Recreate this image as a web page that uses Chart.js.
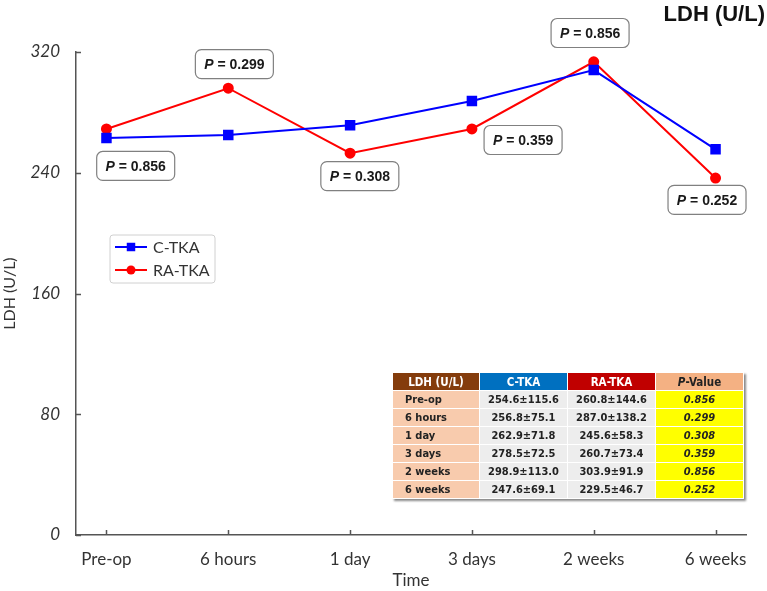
<!DOCTYPE html>
<html lang="en">
<head>
    <meta charset="UTF-8">
    <title>LDH (U/L)</title>
    <script src="https://cdn.jsdelivr.net/npm/chart.js@4.4.1/dist/chart.umd.min.js"></script>
    <style>
        html, body { margin: 0; padding: 0; background: #ffffff; }
        .wrap { position: relative; width: 767px; height: 591px; }
        #ldhChart { position: absolute; left: 0; top: 0; }
        /* summary table laid over the lower right of the plot */
        table.stats {
            position: absolute; left: 392px; top: 372px;
            border-collapse: collapse; table-layout: fixed;
            font-family: "DejaVu Sans Condensed", "DejaVu Sans", sans-serif;
            font-stretch: condensed;
            font-size: 11px; font-weight: bold; color: #222;
            box-shadow: 2px 2px 2px #8a8a8a;
        }
        table.stats th, table.stats td {
            height: 17px; padding: 0; border: 1px solid #ffffff;
            text-align: center; white-space: nowrap; line-height: 16px;
        }
        table.stats th { color: #ffffff; font-size: 11.5px; }
        table.stats .c0 { width: 86px; }
        table.stats .c1, table.stats .c2, table.stats .c3 { width: 87px; }
        table.stats th.h-ldh { background: #843c0c; }
        table.stats th.h-c { background: #0070c0; }
        table.stats th.h-ra { background: #c00000; }
        table.stats th.h-p { background: #f4b183; color: #222; }
        table.stats td.lab { background: #f8cbad; text-align: left; padding-left: 12px; }
        table.stats td.val { background: #ededed; }
        table.stats td.pv { background: #ffff00; font-style: italic; }
    </style>
</head>
<body>
<div class="wrap">
    <canvas id="ldhChart" width="767" height="591"></canvas>
    <table class="stats" id="statsTable">
        <thead>
            <tr>
                <th class="c0 h-ldh">LDH (U/L)</th>
                <th class="c1 h-c">C-TKA</th>
                <th class="c2 h-ra">RA-TKA</th>
                <th class="c3 h-p"><i>P</i>-Value</th>
            </tr>
        </thead>
        <tbody></tbody>
    </table>
</div>

<script>
    // --- data ---
    const timePoints = ['Pre-op', '6 hours', '1 day', '3 days', '2 weeks', '6 weeks'];
    const cTka = [263, 265, 271.5, 287.5, 308, 255.5];
    const raTka = [269, 296, 253, 269, 313.5, 236.5];
    const pValues = ['0.856', '0.299', '0.308', '0.359', '0.856', '0.252'];
    const yTicks = [0, 80, 160, 240, 320];

    // table values (mean ± SD)
    const cTkaMean = [254.6, 256.8, 262.9, 278.5, 298.9, 247.6];
    const cTkaSd = [115.6, 75.1, 71.8, 72.5, 113.0, 69.1];
    const raTkaMean = [260.8, 287.0, 245.6, 260.7, 303.9, 229.5];
    const raTkaSd = [144.6, 138.2, 58.3, 73.4, 91.9, 46.7];

    // where each P box sits, in axis units (x index, LDH value)
    const pBoxAt = [[0.24, 244.5], [1.05, 312], [2.08, 237.8], [3.42, 261.7], [3.97, 332.6], [4.93, 222]];

    // --- table ---
    const tbody = document.querySelector('#statsTable tbody');
    timePoints.forEach((t, i) => {
        const tr = document.createElement('tr');
        tr.innerHTML =
            `<td class="lab">${t}</td>` +
            `<td class="val">${cTkaMean[i].toFixed(1)}±${cTkaSd[i].toFixed(1)}</td>` +
            `<td class="val">${raTkaMean[i].toFixed(1)}±${raTkaSd[i].toFixed(1)}</td>` +
            `<td class="pv">${pValues[i]}</td>`;
        tbody.appendChild(tr);
    });

    // --- extras drawn on the canvas: inner ticks, P boxes, legend, title ---
    const decorations = {
        id: 'decorations',
        afterDraw(chart) {
            const { ctx, chartArea: area, scales: { x, y } } = chart;
            ctx.save();

            // tick marks pointing into the plot
            ctx.strokeStyle = '#555';
            ctx.lineWidth = 1.5;
            ctx.beginPath();
            x.ticks.forEach(t => {
                const px = Math.round(x.getPixelForValue(t.value)) + 0.5;
                ctx.moveTo(px, area.bottom);
                ctx.lineTo(px, area.bottom - 5);
            });
            y.ticks.forEach(t => {
                const py = Math.round(y.getPixelForValue(t.value)) + 0.5;
                ctx.moveTo(area.left, py);
                ctx.lineTo(area.left + 5, py);
            });
            ctx.stroke();

            // P-value boxes
            const w = 78, h = 29;
            pBoxAt.forEach((pos, i) => {
                const cx = x.getPixelForValue(pos[0]);
                const cy = y.getPixelForValue(pos[1]);
                ctx.beginPath();
                ctx.roundRect(cx - w / 2, cy - h / 2, w, h, 6);
                ctx.fillStyle = '#ffffff';
                ctx.fill();
                ctx.strokeStyle = '#808080';
                ctx.lineWidth = 1.2;
                ctx.stroke();

                const italic = 'italic bold 14px "Liberation Sans", Arial, sans-serif';
                const plain = 'bold 14px "Liberation Sans", Arial, sans-serif';
                const rest = ' = ' + pValues[i];
                ctx.font = italic;
                const wp = ctx.measureText('P').width;
                ctx.font = plain;
                const wr = ctx.measureText(rest).width;
                let tx = cx - (wp + wr) / 2;
                ctx.fillStyle = '#1a1a1a';
                ctx.textBaseline = 'middle';
                ctx.textAlign = 'left';
                ctx.font = italic;
                ctx.fillText('P', tx, cy + 1);
                ctx.font = plain;
                ctx.fillText(rest, tx + wp, cy + 1);
            });

            // legend box inside the plot
            const lx = area.left + 34, ly = area.top + 183;
            ctx.beginPath();
            ctx.roundRect(lx, ly, 105, 48, 3);
            ctx.fillStyle = '#ffffff';
            ctx.fill();
            ctx.strokeStyle = '#d0d0d0';
            ctx.lineWidth = 1;
            ctx.stroke();
            chart.data.datasets.forEach((ds, i) => {
                const ry = ly + 12 + i * 23;
                ctx.strokeStyle = ds.borderColor;
                ctx.lineWidth = 2;
                ctx.beginPath();
                ctx.moveTo(lx + 5, ry);
                ctx.lineTo(lx + 37, ry);
                ctx.stroke();
                ctx.fillStyle = ds.backgroundColor;
                Chart.helpers.drawPoint(ctx, { pointStyle: ds.pointStyle, radius: ds.pointRadius, rotation: 0, borderWidth: 0 }, lx + 21, ry);
                ctx.fillStyle = '#333';
                ctx.font = '16px Lato, sans-serif';
                ctx.textAlign = 'left';
                ctx.textBaseline = 'middle';
                ctx.fillText(ds.label, lx + 43, ry + 1);
            });

            // corner title
            ctx.fillStyle = '#111';
            ctx.font = 'bold 22px "Liberation Sans", Arial, sans-serif';
            ctx.textAlign = 'right';
            ctx.textBaseline = 'middle';
            ctx.fillText('LDH (U/L)', 765, 15);

            ctx.restore();
        }
    };

    const ctx = document.getElementById('ldhChart').getContext('2d');
    new Chart(ctx, {
        type: 'line',
        data: {
            datasets: [
                {
                    label: 'C-TKA',
                    data: cTka.map((v, i) => ({ x: i, y: v })),
                    borderColor: '#0000ff',
                    backgroundColor: '#0000ff',
                    pointStyle: 'rect',
                    pointRadius: 6,
                    borderWidth: 2,
                },
                {
                    label: 'RA-TKA',
                    data: raTka.map((v, i) => ({ x: i, y: v })),
                    borderColor: '#ff0000',
                    backgroundColor: '#ff0000',
                    pointStyle: 'circle',
                    pointRadius: 4.5,
                    borderWidth: 2,
                }
            ]
        },
        options: {
            responsive: false,
            animation: false,
            layout: { padding: { top: 52, right: 21, bottom: 0, left: 0 } },
            elements: { line: { tension: 0 }, point: { borderWidth: 0 } },
            plugins: {
                legend: { display: false },
                tooltip: { enabled: false },
            },
            scales: {
                x: {
                    type: 'linear',
                    min: -0.25,
                    max: 5.25,
                    afterBuildTicks: s => { s.ticks = timePoints.map((t, i) => ({ value: i })); },
                    afterFit: s => { s.height = 56; },
                    grid: { display: false, drawTicks: false },
                    border: { color: '#555', width: 1.5 },
                    ticks: {
                        autoSkip: false,
                        maxRotation: 0,
                        padding: 14,
                        color: '#333',
                        font: { family: 'Lato', size: 17 },
                        callback: v => timePoints[v],
                    },
                    title: {
                        display: true,
                        text: 'Time',
                        color: '#333',
                        font: { family: 'Lato', size: 17 },
                        padding: { top: 0, bottom: 0 },
                    }
                },
                y: {
                    min: 0,
                    max: 320,
                    afterBuildTicks: s => { s.ticks = yTicks.map(v => ({ value: v })); },
                    afterFit: s => { s.width = 76; },
                    grid: { display: false, drawTicks: false },
                    border: { color: '#555', width: 1.5 },
                    ticks: {
                        padding: 16,
                        color: '#333',
                        font: { family: 'Lato', size: 17, style: 'italic' },
                    },
                    title: {
                        display: true,
                        text: 'LDH (U/L)',
                        color: '#333',
                        font: { family: 'Lato', size: 16 },
                        padding: { top: 0, bottom: 0 },
                    }
                }
            }
        },
        plugins: [decorations]
    });
</script>
</body>
</html>
